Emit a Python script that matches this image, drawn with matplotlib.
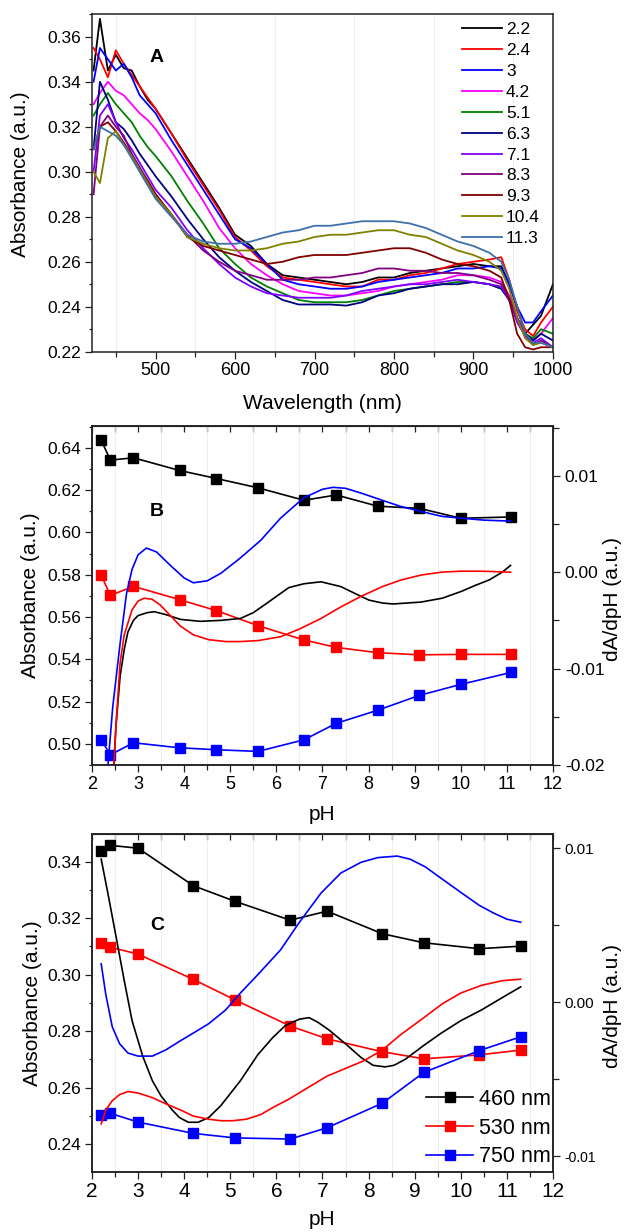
import matplotlib
matplotlib.use('Agg')
import matplotlib.pyplot as plt
from matplotlib.ticker import MultipleLocator

plt.rcParams['font.family'] = ['Liberation Sans', 'DejaVu Sans']

# ---------------- panel A: spectra at different pH ----------------
wl = [422, 430, 440, 450, 460, 470, 480, 490, 500, 520, 540, 560, 580, 600, 620,
      640, 660, 680, 700, 720, 740, 760, 780, 800, 820, 840, 860, 880, 900, 920,
      935, 945, 955, 965, 975, 985, 1000]

a_22 = [0.345, 0.368, 0.345, 0.352, 0.346, 0.345, 0.338, 0.332, 0.328, 0.317, 0.306, 0.295, 0.284, 0.272, 0.267,
        0.259, 0.254, 0.253, 0.252, 0.251, 0.250, 0.251, 0.253, 0.253, 0.255, 0.256, 0.257, 0.258, 0.259, 0.258,
        0.258, 0.250, 0.240, 0.228, 0.232, 0.236, 0.250]
a_24 = [0.355, 0.350, 0.342, 0.354, 0.348, 0.343, 0.338, 0.333, 0.328, 0.317, 0.305, 0.294, 0.283, 0.271, 0.265,
        0.258, 0.253, 0.252, 0.251, 0.250, 0.249, 0.249, 0.252, 0.252, 0.254, 0.255, 0.257, 0.259, 0.260, 0.261,
        0.262, 0.252, 0.238, 0.230, 0.227, 0.233, 0.240]
a_30 = [0.340, 0.355, 0.350, 0.345, 0.348, 0.342, 0.334, 0.330, 0.326, 0.314, 0.303, 0.292, 0.281, 0.270, 0.266,
        0.259, 0.252, 0.250, 0.249, 0.248, 0.248, 0.249, 0.251, 0.252, 0.253, 0.254, 0.255, 0.257, 0.257, 0.258,
        0.257, 0.250, 0.240, 0.233, 0.233, 0.238, 0.245]
a_42 = [0.330, 0.335, 0.340, 0.336, 0.334, 0.330, 0.326, 0.323, 0.319, 0.309, 0.298, 0.287, 0.275, 0.266, 0.259,
        0.254, 0.250, 0.247, 0.246, 0.245, 0.245, 0.246, 0.247, 0.249, 0.250, 0.251, 0.252, 0.254, 0.254, 0.253,
        0.251, 0.245, 0.235, 0.228, 0.225, 0.228, 0.235]
a_51 = [0.325, 0.330, 0.335, 0.330, 0.326, 0.322, 0.316, 0.311, 0.307, 0.298, 0.287, 0.277, 0.266, 0.259, 0.253,
        0.249, 0.246, 0.243, 0.242, 0.242, 0.242, 0.243, 0.245, 0.247, 0.248, 0.249, 0.250, 0.251, 0.251, 0.250,
        0.248, 0.243, 0.235, 0.228, 0.226, 0.230, 0.228]
a_63 = [0.310, 0.340, 0.332, 0.322, 0.319, 0.314, 0.308, 0.303, 0.298, 0.289, 0.279, 0.270, 0.262, 0.256, 0.251,
        0.247, 0.243, 0.241, 0.241, 0.241, 0.2405, 0.242, 0.245, 0.246, 0.248, 0.249, 0.250, 0.250, 0.251, 0.250,
        0.248, 0.243, 0.235, 0.228, 0.225, 0.228, 0.225]
a_71 = [0.300, 0.325, 0.330, 0.322, 0.315, 0.310, 0.304, 0.298, 0.292, 0.284, 0.274, 0.266, 0.259, 0.253, 0.249,
        0.246, 0.245, 0.244, 0.244, 0.244, 0.245, 0.247, 0.248, 0.249, 0.250, 0.250, 0.251, 0.252, 0.251, 0.250,
        0.249, 0.243, 0.233, 0.227, 0.224, 0.226, 0.222]
a_83 = [0.290, 0.320, 0.325, 0.320, 0.316, 0.308, 0.302, 0.296, 0.290, 0.281, 0.272, 0.265, 0.260, 0.256, 0.254,
        0.252, 0.252, 0.252, 0.253, 0.253, 0.254, 0.255, 0.257, 0.257, 0.256, 0.256, 0.255, 0.255, 0.254, 0.252,
        0.250, 0.244, 0.235, 0.228, 0.223, 0.225, 0.222]
a_93 = [0.310, 0.320, 0.322, 0.318, 0.313, 0.307, 0.301, 0.296, 0.290, 0.281, 0.271, 0.267, 0.265, 0.263, 0.261,
        0.259, 0.260, 0.262, 0.263, 0.263, 0.263, 0.264, 0.265, 0.266, 0.266, 0.264, 0.261, 0.259, 0.258, 0.256,
        0.253, 0.243, 0.228, 0.222, 0.221, 0.222, 0.222]
a_104 = [0.300, 0.295, 0.315, 0.318, 0.312, 0.307, 0.301, 0.295, 0.289, 0.281, 0.271, 0.268, 0.266, 0.265, 0.265,
         0.266, 0.268, 0.269, 0.271, 0.272, 0.272, 0.273, 0.274, 0.274, 0.272, 0.271, 0.268, 0.265, 0.263, 0.260,
         0.256, 0.248, 0.235, 0.226, 0.223, 0.224, 0.222]
a_113 = [0.310, 0.320, 0.318, 0.316, 0.312, 0.306, 0.300, 0.294, 0.288, 0.280, 0.272, 0.269, 0.268, 0.268, 0.269,
         0.271, 0.273, 0.274, 0.276, 0.276, 0.277, 0.278, 0.278, 0.278, 0.277, 0.275, 0.272, 0.269, 0.267, 0.264,
         0.260, 0.252, 0.240, 0.228, 0.224, 0.224, 0.222]

spectra = [a_22, a_24, a_30, a_42, a_51, a_63, a_71, a_83, a_93, a_104, a_113]
ph_labels = ['2.2', '2.4', '3', '4.2', '5.1', '6.3', '7.1', '8.3', '9.3', '10.4', '11.3']
spec_colors = ['#000000', '#ff0000', '#0000ff', '#ff00ff', '#008000', '#000080',
               '#8000ff', '#800080', '#800000', '#808000', '#3d6fa8']

# ---------------- panel B ----------------
ph_b = [2.2, 2.4, 2.9, 3.9, 4.7, 5.6, 6.6, 7.3, 8.2, 9.1, 10.0, 11.1]
b_460 = [0.6436, 0.6342, 0.6353, 0.6293, 0.6255, 0.6211, 0.6152, 0.6177, 0.6124, 0.6114, 0.6067, 0.6073]
b_530 = [0.5797, 0.5702, 0.5745, 0.5682, 0.5630, 0.5559, 0.5491, 0.5456, 0.5431, 0.5421, 0.5423, 0.5423]
b_750 = [0.5019, 0.4948, 0.5005, 0.4981, 0.4972, 0.4964, 0.5019, 0.5097, 0.5159, 0.5229, 0.5281, 0.5338]

ph_db_460 = [2.45, 2.52, 2.61, 2.7, 2.78, 2.9, 3.0, 3.2, 3.35, 3.6, 3.92, 4.35, 4.8, 5.22, 5.5, 5.8,
             6.27, 6.6, 6.97, 7.4, 7.7, 8.01, 8.3, 8.53, 9.14, 9.6, 10.01, 10.3, 10.62, 10.9, 11.08]
db_460 = [-0.022, -0.016, -0.0108, -0.008, -0.0062, -0.0050, -0.0045, -0.0042, -0.0041, -0.0044, -0.0049,
          -0.0051, -0.0050, -0.0048, -0.0042, -0.0032, -0.0016, -0.0012, -0.0010, -0.0015, -0.0022, -0.0029,
          -0.0032, -0.0033, -0.0031, -0.0027, -0.0020, -0.0014, -0.0008, 0.0, 0.0007]
ph_db_530 = [2.45, 2.52, 2.61, 2.7, 2.87, 3.0, 3.13, 3.3, 3.48, 3.7, 3.92, 4.2, 4.53, 4.9, 5.22, 5.6,
             6.09, 6.5, 6.97, 7.4, 7.84, 8.3, 8.71, 9.14, 9.58, 10.0, 10.45, 11.08]
db_530 = [-0.022, -0.016, -0.0094, -0.0065, -0.0039, -0.0030, -0.0027, -0.0028, -0.0034, -0.0045, -0.0056,
          -0.0065, -0.0070, -0.0072, -0.0072, -0.0071, -0.0067, -0.0059, -0.0048, -0.0036, -0.0025, -0.0015,
          -0.0008, -0.0003, 0.0, 0.0001, 0.0001, 0.0]
ph_db_750 = [2.33, 2.45, 2.61, 2.75, 2.87, 3.0, 3.18, 3.4, 3.7, 4.0, 4.2, 4.5, 4.8, 5.2, 5.66, 6.09, 6.59,
             7.0, 7.23, 7.5, 7.84, 8.27, 8.71, 9.14, 9.58, 10.0, 10.5, 11.08]
db_750 = [-0.021, -0.014, -0.0074, -0.0022, 0.0003, 0.0018, 0.0025, 0.0021, 0.0007, -0.0006, -0.0011,
          -0.0009, -0.0001, 0.0014, 0.0033, 0.0056, 0.0077, 0.0086, 0.0088, 0.0087, 0.0082, 0.0075, 0.0068,
          0.0063, 0.0058, 0.0056, 0.0054, 0.0053]

# ---------------- panel C ----------------
ph_c = [2.2, 2.4, 3.0, 4.2, 5.1, 6.3, 7.1, 8.3, 9.2, 10.4, 11.3]
c_460 = [0.3439, 0.3458, 0.3448, 0.3315, 0.3260, 0.3193, 0.3225, 0.3145, 0.3113, 0.3092, 0.3101]
c_530 = [0.3111, 0.3097, 0.3073, 0.2983, 0.2911, 0.2818, 0.2773, 0.2727, 0.2702, 0.2716, 0.2733]
c_750 = [0.2503, 0.2509, 0.2478, 0.2438, 0.2422, 0.2418, 0.2458, 0.2545, 0.2654, 0.2731, 0.2780]

ph_dc_460 = [2.2, 2.35, 2.52, 2.7, 2.87, 3.1, 3.31, 3.5, 3.74, 3.9, 4.09, 4.3, 4.53, 4.8, 5.22, 5.6,
             5.92, 6.2, 6.5, 6.71, 6.9, 7.14, 7.5, 7.84, 8.1, 8.36, 8.55, 8.8, 9.2, 9.58, 10.0, 10.45,
             10.9, 11.3]
dc_460 = [0.0093, 0.0070, 0.0043, 0.0014, -0.0012, -0.0035, -0.0051, -0.0061, -0.0070, -0.0075, -0.0078,
          -0.0078, -0.0075, -0.0067, -0.0051, -0.0034, -0.0023, -0.0015, -0.0011, -0.0010, -0.0013, -0.0018,
          -0.0027, -0.0036, -0.0041, -0.0042, -0.0041, -0.0037, -0.0028, -0.0020, -0.0012, -0.0005, 0.0003,
          0.0010]
ph_dc_530 = [2.2, 2.3, 2.44, 2.6, 2.78, 3.0, 3.31, 3.6, 3.92, 4.2, 4.53, 4.8, 5.05, 5.35, 5.66, 5.95,
             6.27, 6.6, 7.1, 7.5, 7.9, 8.3, 8.7, 9.2, 9.6, 10.0, 10.45, 10.9, 11.3]
dc_530 = [-0.0079, -0.0070, -0.0064, -0.0060, -0.0058, -0.0059, -0.0062, -0.0066, -0.0070, -0.0074,
          -0.0076, -0.0077, -0.0077, -0.0076, -0.0073, -0.0068, -0.0063, -0.0057, -0.0048, -0.0043,
          -0.0038, -0.0031, -0.0021, -0.0010, -0.0001, 0.0006, 0.0011, 0.0014, 0.0015]
ph_dc_750 = [2.2, 2.3, 2.44, 2.6, 2.78, 3.0, 3.31, 3.6, 3.92, 4.2, 4.53, 4.9, 5.22, 5.6, 6.09, 6.5,
             6.97, 7.4, 7.84, 8.2, 8.62, 8.9, 9.23, 9.6, 10.02, 10.4, 10.71, 11.0, 11.3]
dc_750 = [0.0025, 0.0005, -0.0016, -0.0027, -0.0033, -0.0035, -0.0035, -0.0031, -0.0025, -0.0020,
          -0.0014, -0.0005, 0.0006, 0.0018, 0.0034, 0.0052, 0.0071, 0.0084, 0.0091, 0.0094, 0.0095,
          0.0093, 0.0088, 0.0080, 0.0071, 0.0063, 0.0058, 0.0054, 0.0052]

wave_labels = ['460 nm', '530 nm', '750 nm']
wave_colors = ['#000000', '#ff0000', '#0000ff']

fig = plt.figure(figsize=(6.3, 12.32), dpi=100)
L, W = 0.146, 0.7317


def style_axis(ax, xtick_size, ytick_size):
    for s in ax.spines.values():
        s.set_linewidth(1.1)
        s.set_color('#222222')
    ax.tick_params(axis='both', which='major', direction='out', length=4.7, width=0.9,
                   color='#222222')
    ax.tick_params(axis='x', which='minor', direction='out', length=3.6, width=0.9, color='#222222')
    ax.tick_params(axis='y', which='minor', direction='out', length=2.2, width=0.9, color='#222222')
    ax.tick_params(axis='x', labelsize=xtick_size, pad=3)
    ax.tick_params(axis='y', labelsize=ytick_size, pad=3)
    ax.grid(which='minor', axis='x', color='#ebebeb', lw=0.6)
    ax.set_axisbelow(True)


# ===== A =====
axA = fig.add_axes([L, 0.7145, W, 0.2741])
for spec, lab, col in zip(spectra, ph_labels, spec_colors):
    axA.plot(wl, spec, color=col, lw=1.3, label=lab)
axA.set_xlim(420, 1000)
axA.set_ylim(0.22, 0.3701)
axA.xaxis.set_major_locator(MultipleLocator(100))
axA.xaxis.set_minor_locator(MultipleLocator(50))
axA.yaxis.set_major_locator(MultipleLocator(0.02))
axA.yaxis.set_minor_locator(MultipleLocator(0.01))
axA.yaxis.set_major_formatter(lambda v, p: f'{v:.2f}')
style_axis(axA, 13, 12.5)
axA.set_xlabel('Wavelength (nm)', fontsize=15)
axA.xaxis.set_label_coords(0.5, -0.152)
axA.xaxis.label.set_va('center')
axA.set_ylabel('Absorbance (a.u.)', fontsize=15)
axA.yaxis.set_label_coords(-0.156, 0.526)
axA.yaxis.label.set_va('center')
axA.text(0.141, 0.87, 'A', transform=axA.transAxes, fontsize=14, fontweight='bold',
         ha='center', va='center')
axA.legend(loc='upper left', bbox_to_anchor=(0.802, 0.976), frameon=False, fontsize=12.5,
           handlelength=2.3, handletextpad=0.25, labelspacing=0.33, borderpad=0,
           borderaxespad=0)


def pH_panel(rect, ph, series, dph, dser, ylim, ylim2, yloc, ylabcoord, xtick_size, rtick_size):
    ax = fig.add_axes(rect)
    ax2 = ax.twinx()
    lines = []
    for vals, col, lab in zip(series, wave_colors, wave_labels):
        ln, = ax.plot(ph, vals, color=col, lw=1.2, marker='s', ms=6.5, mec=col, label=lab)
        lines.append(ln)
    for xv, vals, col in zip(dph, dser, wave_colors):
        ax2.plot(xv, vals, color=col, lw=1.2)
    ax.set_xlim(2, 12)
    ax.set_ylim(*ylim)
    ax2.set_ylim(*ylim2)
    ax.xaxis.set_major_locator(MultipleLocator(1))
    ax.xaxis.set_minor_locator(MultipleLocator(0.5))
    ax.yaxis.set_major_locator(MultipleLocator(0.02))
    ax.yaxis.set_minor_locator(MultipleLocator(0.01))
    ax.yaxis.set_major_formatter(lambda v, p: f'{v:.2f}')
    ax2.yaxis.set_major_locator(MultipleLocator(yloc))
    ax2.yaxis.set_minor_locator(MultipleLocator(0.005))
    ax2.yaxis.set_major_formatter(lambda v, p: f'{v:.2f}')
    style_axis(ax, xtick_size, 12.5)
    # top ticks point inward, one every 0.5 pH
    sec = ax.secondary_xaxis('top')
    sec.xaxis.set_major_locator(MultipleLocator(0.5))
    sec.tick_params(direction='in', length=4.5, width=0.9, labeltop=False, color='#222222')
    ax2.tick_params(axis='y', which='major', direction='out', length=5, width=0.9,
                    labelsize=rtick_size, color='#222222')
    ax2.tick_params(axis='y', which='minor', direction='out', length=4.2, width=0.9, color='#222222')
    for s in ax2.spines.values():
        s.set_linewidth(1.1)
        s.set_color('#222222')
    ax.set_xlabel('pH', fontsize=15)
    ax.xaxis.label.set_va('center')
    ax.set_ylabel('Absorbance (a.u.)', fontsize=15)
    ax.yaxis.label.set_va('center')
    ax.yaxis.set_label_coords(ylabcoord, 0.5)
    ax2.set_ylabel('dA/dpH (a.u.)', fontsize=15, rotation=90)
    ax2.yaxis.label.set_va('center')
    ax2.yaxis.set_label_coords(1.13, 0.49)
    return ax, ax2, lines


# ===== B =====
axB, axB2, _ = pH_panel([L, 0.3791, W, 0.2754], ph_b, [b_460, b_530, b_750],
                        [ph_db_460, ph_db_530, ph_db_750], [db_460, db_530, db_750],
                        (0.49, 0.6505), (-0.02, 0.0152), 0.01, -0.134, 13, 12.5)
axB.xaxis.set_label_coords(0.5, -0.147)
axB.text(0.141, 0.746, 'B', transform=axB.transAxes, fontsize=14, fontweight='bold',
         ha='center', va='center')

# ===== C =====
axC, axC2, linesC = pH_panel([L, 0.0491, W, 0.2739], ph_c, [c_460, c_530, c_750],
                             [ph_dc_460, ph_dc_530, ph_dc_750], [dc_460, dc_530, dc_750],
                             (0.2303, 0.3498), (-0.0110, 0.01093), 0.01, -0.130, 15, 11)
axC.xaxis.set_label_coords(0.5, -0.142)
for t in axC2.get_yticklabels():
    if t.get_text().startswith('-') or t.get_text().startswith('\u2212'):
        t.set_fontsize(10)
axC.text(0.141, 0.73, 'C', transform=axC.transAxes, fontsize=14, fontweight='bold',
         ha='center', va='center')
axC2.legend(handles=linesC, loc='lower right', bbox_to_anchor=(0.995, 0.012), frameon=False,
            fontsize=15.5, handlelength=2.2, handletextpad=0.25, labelspacing=0.36, borderpad=0,
            borderaxespad=0)

fig.savefig('out.png', dpi=100, facecolor='white')
